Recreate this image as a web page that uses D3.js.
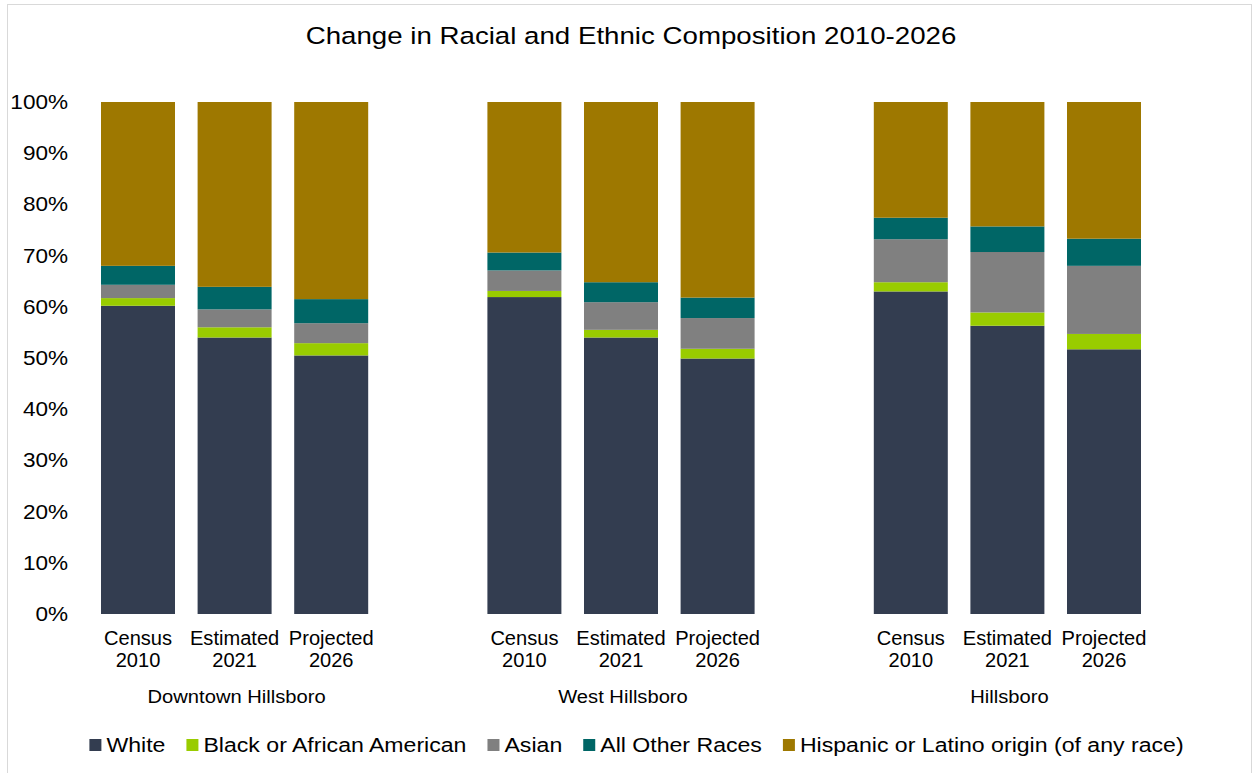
<!DOCTYPE html>
<html>
<head>
<meta charset="utf-8">
<script src="https://cdn.jsdelivr.net/npm/d3@7"></script>
<style>
  html, body { margin: 0; padding: 0; background: #fff; }
  svg { display: block; font-family: "Liberation Sans", Arial, sans-serif; }
</style>
</head>
<body>
<svg id="chart" width="1254" height="773"></svg>
<script>
// Areas (outer category level) and periods (inner category level)
const areas = ["Downtown Hillsboro", "West Hillsboro", "Hillsboro"];
const periods = ["Census 2010", "Estimated 2021", "Projected 2026"];
const periodLines = [["Census", "2010"], ["Estimated", "2021"], ["Projected", "2026"]];

// Share of population (%) per series, ordered area by area, period by period
const white    = [60.2, 54.0, 50.5,  61.9, 54.0, 49.9,  63.0, 56.3, 51.7];
const black    = [ 1.5,  2.0,  2.4,   1.2,  1.5,  1.9,   1.8,  2.6,  3.0];
const asian    = [ 2.6,  3.5,  3.9,   4.0,  5.4,  6.0,   8.4, 11.8, 13.3];
const other    = [ 3.7,  4.4,  4.7,   3.5,  3.9,  4.0,   4.2,  5.0,  5.3];
const hispanic = [32.0, 36.1, 38.5,  29.4, 35.2, 38.2,  22.6, 24.3, 26.7];

const seriesNames = ["White", "Black or African American", "Asian", "All Other Races", "Hispanic or Latino origin (of any race)"];
const seriesColors = ["#333d50", "#99cc00", "#808080", "#006666", "#9e7800"];
const yTicks = [0, 10, 20, 30, 40, 50, 60, 70, 80, 90, 100];

const svg = d3.select("#chart");
const W = 1254, H = 773;

// Text in this chart is set slightly wide
const WIDE = 1.1;

// Chart frame
svg.append("rect")
  .attr("x", 7.5).attr("y", 4.5)
  .attr("width", W - 10).attr("height", H - 2)
  .attr("fill", "#fff").attr("stroke", "#d9d9d9").attr("stroke-width", 1);

// Title
svg.append("text")
  .attr("transform", `translate(631,44) scale(1.13,1)`)
  .attr("text-anchor", "middle")
  .attr("font-size", 24.5)
  .attr("fill", "#000")
  .text("Change in Racial and Ethnic Composition 2010-2026");

// Rows: one per bar, with a blank slot between areas
const rows = [];
areas.forEach((a, ai) => {
  periods.forEach((p, pi) => {
    const i = ai * periods.length + pi;
    rows.push({ key: a + "|" + p, area: a, period: p, pi,
      "White": white[i],
      "Black or African American": black[i],
      "Asian": asian[i],
      "All Other Races": other[i],
      "Hispanic or Latino origin (of any race)": hispanic[i] });
  });
});
const slots = [];
areas.forEach((a, ai) => {
  periods.forEach(p => slots.push(a + "|" + p));
  if (ai < areas.length - 1) slots.push("gap" + ai);
});

const plotLeft = 89.7, plotRight = 1152.3, plotTop = 102, plotBottom = 614;

const x = d3.scaleBand()
  .domain(slots)
  .range([plotLeft, plotRight])
  .paddingInner(0.234)
  .paddingOuter(0.117);

const y = d3.scaleLinear().domain([0, 100]).range([plotBottom, plotTop]);

// Y axis labels only (no axis line, no gridlines)
const yAxis = d3.axisLeft(y)
  .tickValues(yTicks)
  .tickFormat(d => d + "%")
  .tickSize(0)
  .tickPadding(0);
const yg = svg.append("g")
  .attr("transform", `translate(68,0)`)
  .call(yAxis);
yg.select(".domain").remove();
yg.selectAll("text")
  .attr("font-size", 20.5)
  .attr("fill", "#000")
  .attr("font-family", "Liberation Sans, Arial, sans-serif")
  .attr("transform", `scale(${WIDE},1)`);

// Stacked bars
const stack = d3.stack().keys(seriesNames);
const stacked = stack(rows);
const color = d3.scaleOrdinal().domain(seriesNames).range(seriesColors);

svg.append("g")
  .selectAll("g")
  .data(stacked)
  .join("g")
  .attr("fill", d => color(d.key))
  .selectAll("rect")
  .data(d => d)
  .join("rect")
  .attr("x", d => x(d.data.key))
  .attr("width", x.bandwidth())
  .attr("y", d => y(d[1]))
  .attr("height", d => y(d[0]) - y(d[1]));

// Period labels (two lines each)
const catG = svg.append("g").attr("font-size", 19.5).attr("fill", "#000").attr("text-anchor", "middle");
rows.forEach(r => {
  const cx = x(r.key) + x.bandwidth() / 2;
  const t = catG.append("text").attr("transform", `translate(${cx},645) scale(1.03,1)`);
  t.append("tspan").attr("x", 0).attr("dy", 0).text(periodLines[r.pi][0]);
  t.append("tspan").attr("x", 0).attr("dy", 22.5).text(periodLines[r.pi][1]);
});

// Area labels under the middle bar of each group
const areaG = svg.append("g").attr("font-size", 18.5).attr("fill", "#000").attr("text-anchor", "middle");
areas.forEach(a => {
  const mid = a + "|" + periods[1];
  areaG.append("text")
    .attr("transform", `translate(${x(mid) + x.bandwidth() / 2 + 2},703) scale(1.09,1)`)
    .text(a);
});

// Legend, centred under the plot
const legend = svg.append("g").attr("font-size", 21);
const items = [];
seriesNames.forEach((name, i) => {
  const g = legend.append("g");
  g.append("rect").attr("x", 0).attr("y", -13).attr("width", 12).attr("height", 12).attr("fill", seriesColors[i]);
  const t = g.append("text").attr("transform", `translate(17,0) scale(${WIDE},1)`).attr("fill", "#000").text(name);
  const w = 17 + t.node().getComputedTextLength() * WIDE;
  items.push({ g, w });
});
const gapL = 21;
const totalW = d3.sum(items, d => d.w) + gapL * (items.length - 1);
let cur = 636.5 - totalW / 2;
items.forEach(it => {
  it.g.attr("transform", `translate(${cur},752)`);
  cur += it.w + gapL;
});
</script>
</body>
</html>
